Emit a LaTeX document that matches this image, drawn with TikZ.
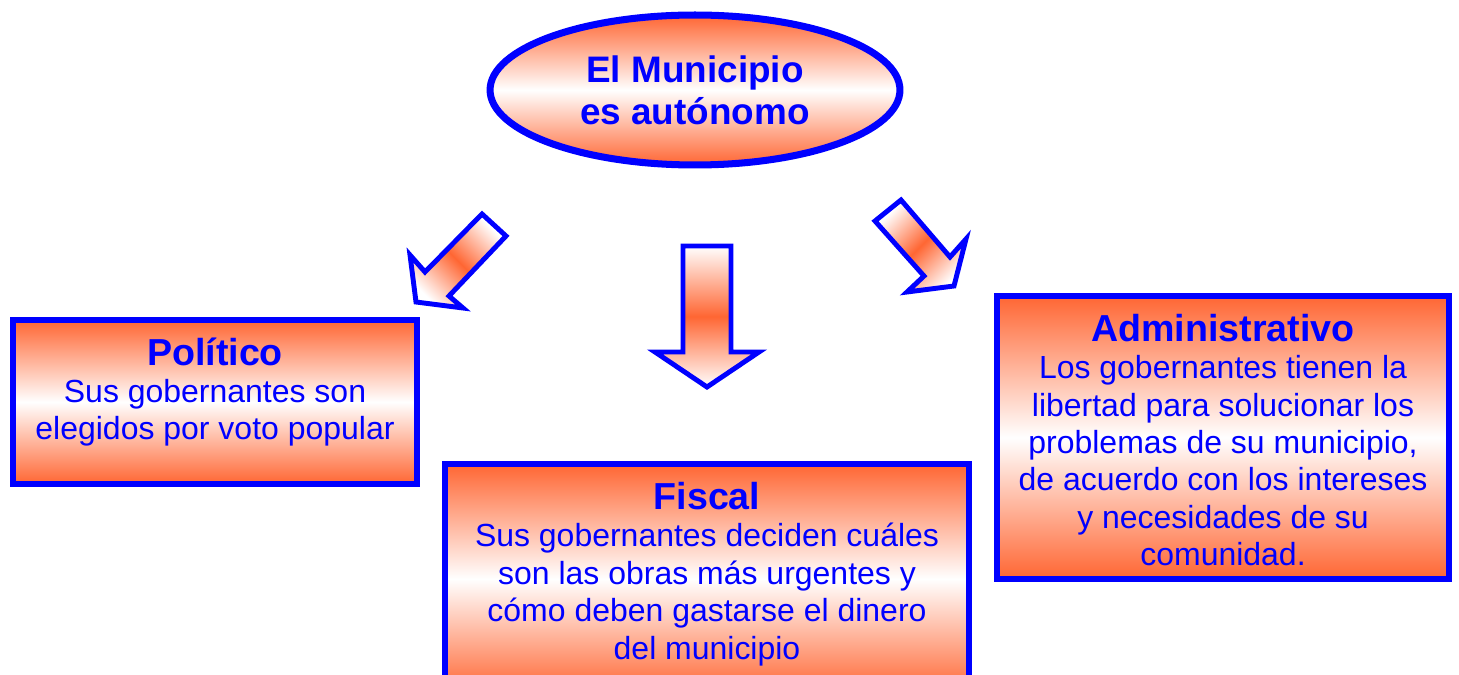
\documentclass[tikz,border=0pt]{standalone}
\usepackage{fontspec}
\setmainfont{Liberation Sans}
\usetikzlibrary{shapes.geometric,shadings}
\definecolor{orng}{RGB}{255,102,51}
\definecolor{bblue}{RGB}{0,0,255}
\newcommand\ttl[1]{{\fontsize{21.4}{21.3}\selectfont\bfseries #1}}
\tikzset{
  box/.style={draw=bblue, line width=3.4pt, top color=orng, bottom color=orng, middle color=white,
    inner sep=0pt},
  boxtext/.style={align=center, text=bblue, inner sep=0pt, font=\fontsize{18.2}{21.3}\selectfont},
  barrow/.style={draw=bblue, line width=2.8pt, line join=miter, top color=white, bottom color=white, middle color=orng},
}
\begin{document}
\begin{tikzpicture}[x=0.02cm,y=-0.02cm]
\useasboundingbox (0,0) rectangle (1459,675);

% top ellipse
\node[ellipse, draw=bblue, line width=4pt, top color=orng, bottom color=orng, middle color=white,
  minimum width=8.2cm, minimum height=3cm, inner sep=0pt, align=center, text=bblue,
  font=\fontsize{21}{23.8}\selectfont\bfseries] (mun) at (695,90) {El Municipio\\es autónomo};

% boxes
\node[box, minimum width=8.08cm, minimum height=3.28cm] (polbox) at (215,402) {};
\node[box, minimum width=10.48cm, minimum height=4.6cm] (fisbox) at (707,579) {};
\node[box, minimum width=9.04cm, minimum height=5.66cm] (admbox) at (1223,437.5) {};

\node[boxtext] (pol) at (215,392)
  {\ttl{Político}\\Sus gobernantes son\\elegidos por voto popular};
\node[boxtext] (fis) at (707,574)
  {\ttl{Fiscal}\\Sus gobernantes deciden cuáles\\son las obras más urgentes y\\cómo deben gastarse el dinero\\del municipio};
\node[boxtext] (adm) at (1223,440)
  {\ttl{Administrativo}\\Los gobernantes tienen la\\libertad para solucionar los\\problemas de su municipio,\\de acuerdo con los intereses\\y necesidades de su\\comunidad.};

% block arrows
\path[barrow, shading angle=-45] (482,214) -- (506,236) -- (449,296) -- (463,308) -- (416,302) -- (410,255) -- (425,272) -- cycle;
\path[barrow] (683,246) -- (731,246) -- (731,352) -- (759,352) -- (707,387) -- (655,352) -- (683,352) -- cycle;
\path[barrow, shading angle=45] (875,221) -- (901,200) -- (950,257) -- (966,239) -- (954,286) -- (907,292) -- (924,276) -- cycle;
\end{tikzpicture}
\end{document}
